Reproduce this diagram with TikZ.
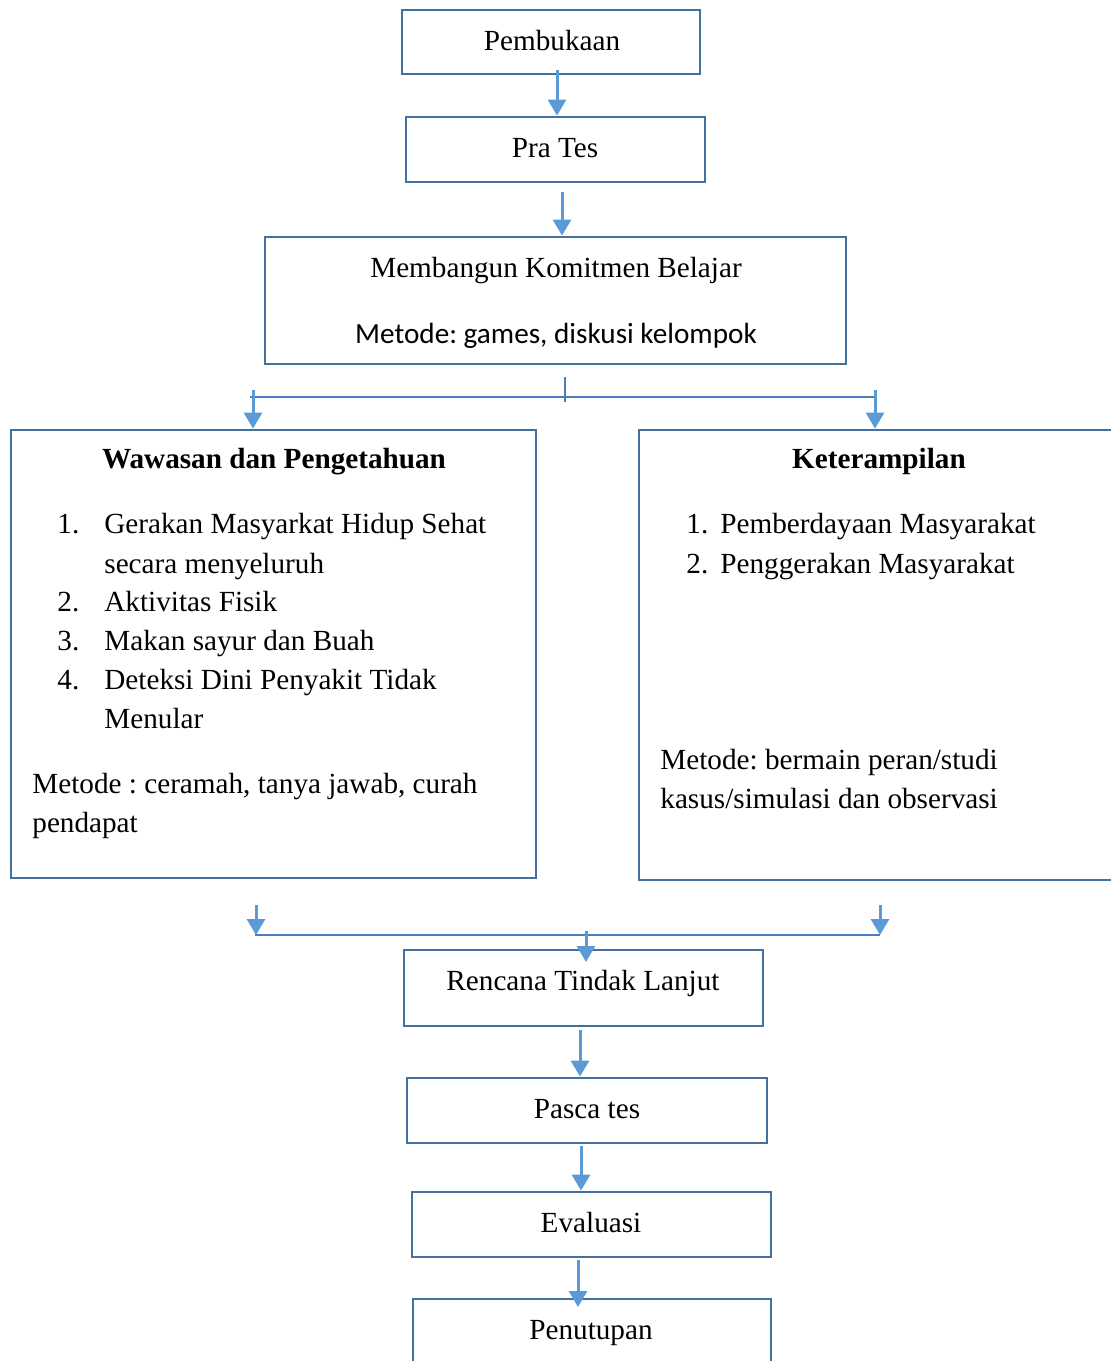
\documentclass[tikz,border=0pt]{standalone}
\usepackage{fontspec}
\setmainfont{Liberation Serif}
\newfontfamily\calibri{Carlito}
\usepackage{xcolor}
\usetikzlibrary{arrows.meta}

\definecolor{boxblue}{HTML}{41719C}
\definecolor{arrowblue}{HTML}{5B9BD5}
\definecolor{lineblue}{HTML}{4A7EBB}

\tikzset{
  box/.style={draw=boxblue, line width=1.4pt, inner sep=0pt},
  flow/.style={draw=arrowblue, line width=1.5pt, -{Triangle[width=9pt,length=8pt]}},
  branch/.style={draw=lineblue, line width=0.8pt},
  txt/.style={inner sep=0pt, text height=11.5pt, text depth=1.5pt}
}

\begin{document}
\frenchspacing
\begin{tikzpicture}[x=0.5pt, y=-0.5pt, font=\fontsize{14.6}{19.5}\selectfont]
    \useasboundingbox (0,0) rectangle (1111,1361);

    % Top boxes
    \node[box, minimum width=149pt, minimum height=32pt] (buka) at (551,42) {};
    \node[txt] (bukatxt) at (552,40) {Pembukaan};
    \node[box, minimum width=149.5pt, minimum height=32.5pt] (pra) at (555.5,149.5) {};
    \node[txt] (pratxt) at (555,147) {Pra Tes};
    \node[box, minimum width=290.5pt, minimum height=63.5pt] (bangun) at (555.5,300.5) {};
    \node[txt] (bangun1) at (556,267) {Membangun Komitmen Belajar};
    \node[txt] (bangun2) at (556,333) {\calibri Metode: games, diskusi kelompok};

    % Wawasan dan Pengetahuan
    \node[box, minimum width=262.5pt, minimum height=224pt] (wawasan) at (273.5,654) {};
    \node[txt] (wtitle) at (274,458) {\textbf{Wawasan dan Pengetahuan}};
    \foreach \n/\y/\t in {1/523/Gerakan Masyarkat Hidup Sehat, 2/601/Aktivitas Fisik,
                          3/640/Makan sayur dan Buah, 4/679/Deteksi Dini Penyakit Tidak} {
        \node[txt, anchor=west] (wnum\n) at (57,\y) {\n.};
        \node[txt, anchor=west] (witem\n) at (104,\y) {\t};
    }
    \node[txt, anchor=west] (witem1b) at (104,563) {secara menyeluruh};
    \node[txt, anchor=west] (witem4b) at (104,718) {Menular};
    \node[txt, anchor=west] (wmetode) at (32,783) {Metode : ceramah, tanya jawab, curah};
    \node[txt, anchor=west] (wmetodeb) at (32,822) {pendapat};

    % Keterampilan
    \node[box, minimum width=240pt, minimum height=225pt] (terampil) at (879,655) {};
    \node[txt] (ktitle) at (879,458) {\textbf{Keterampilan}};
    \foreach \n/\y/\t in {1/523/Pemberdayaan Masyarakat, 2/563/Penggerakan Masyarakat} {
        \node[txt, anchor=west] (knum\n) at (686,\y) {\n.};
        \node[txt, anchor=west] (kitem\n) at (720,\y) {\t};
    }
    \node[txt, anchor=west] (kmetode) at (660,759) {Metode: bermain peran/studi};
    \node[txt, anchor=west] (kmetodeb) at (660,798) {kasus/simulasi dan observasi};

    % Bottom boxes
    \node[box, minimum width=179.5pt, minimum height=38pt] (rencana) at (583.5,988) {};
    \node[txt] (rencanatxt) at (583,980) {Rencana Tindak Lanjut};
    \node[box, minimum width=180pt, minimum height=32.5pt] (pasca) at (587,1110.5) {};
    \node[txt] (pascatxt) at (587,1108) {Pasca tes};
    \node[box, minimum width=179.5pt, minimum height=32.5pt] (eval) at (591.5,1224.5) {};
    \node[txt] (evaltxt) at (591,1222) {Evaluasi};
    \node[box, minimum width=179pt, minimum height=33pt] (tutup) at (592,1332) {};
    \node[txt] (tutuptxt) at (591,1329) {Penutupan};

    % Arrows at the top
    \coordinate (a1) at (557,70);
    \draw[flow] (a1) -- (a1 |- pra.north);
    \coordinate (a2) at (562,192);
    \draw[flow] (a2) -- (a2 |- bangun.north);

    % Split
    \coordinate (tick) at (565,377);
    \coordinate (tickend) at (565,402);
    \coordinate (splitl) at (250,397);
    \coordinate (splitr) at (875,397);
    \draw[branch] (tick) -- (tickend);
    \draw[branch] (splitl) -- (splitr);
    \coordinate (wl) at (253,390);
    \coordinate (wr) at (875,390);
    \draw[flow] (wl) -- (wl |- wawasan.north);
    \draw[flow] (wr) -- (wr |- terampil.north);

    % Join
    \coordinate (jl) at (256,905);
    \coordinate (jr) at (880,905);
    \coordinate (joinl) at (255,935);
    \coordinate (joinr) at (880,935);
    \draw[flow] (jl) -- (jl |- joinl);
    \draw[flow] (jr) -- (jr |- joinr);
    \draw[branch] (joinl) -- (joinr);
    \coordinate (jm) at (586,931);
    \coordinate (jmend) at (586,962);
    \draw[flow] (jm) -- (jmend);

    % Arrows at the bottom
    \coordinate (b1) at (580,1030);
    \draw[flow] (b1) -- (b1 |- pasca.north);
    \coordinate (b2) at (581,1146);
    \draw[flow] (b2) -- (b2 |- eval.north);
    \coordinate (b3) at (578,1260);
    \coordinate (b3end) at (578,1307);
    \draw[flow] (b3) -- (b3end);
\end{tikzpicture}
\end{document}
